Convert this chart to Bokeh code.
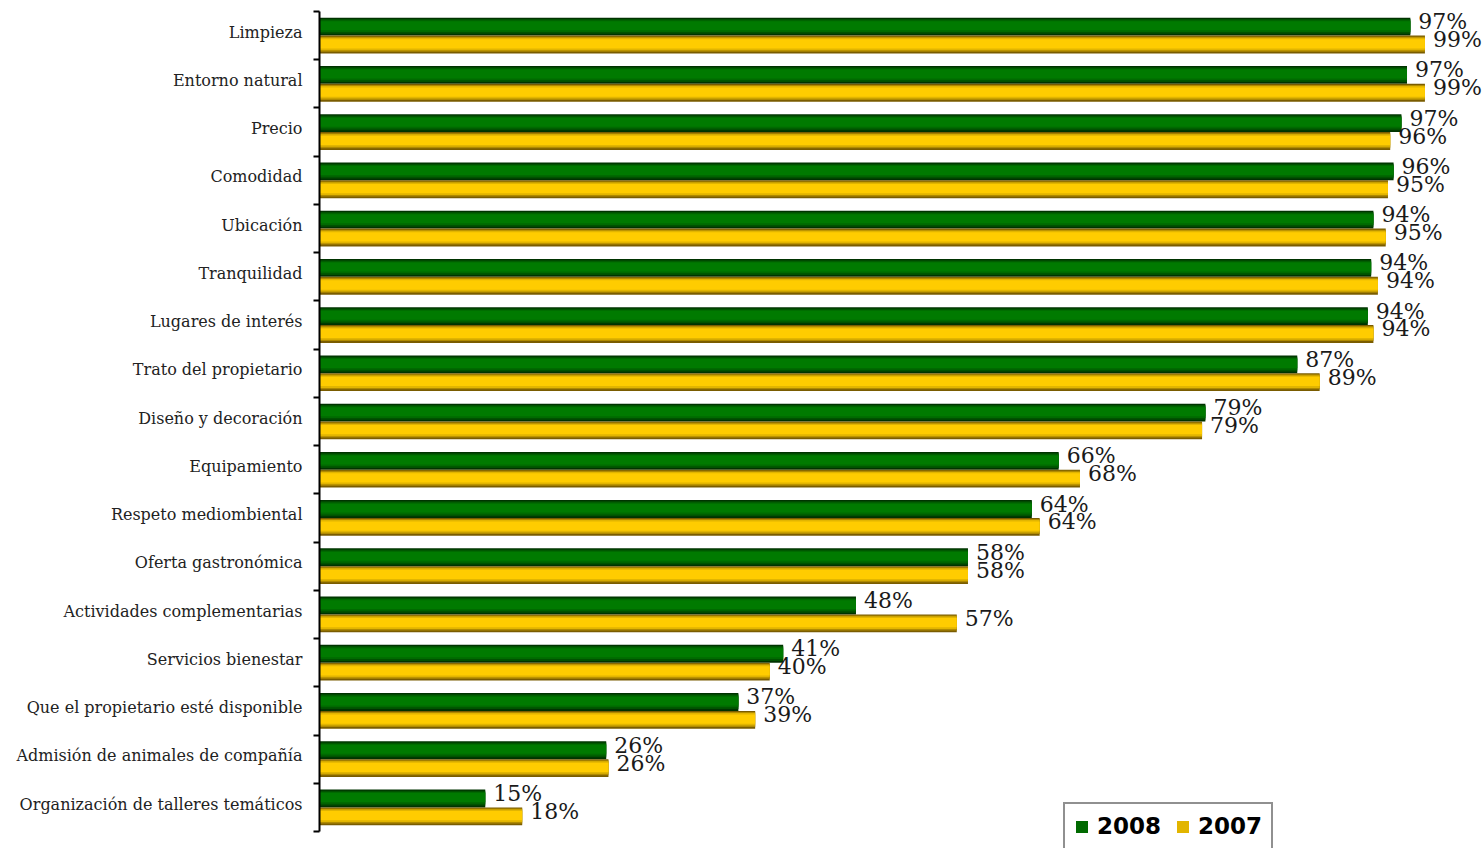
import numpy as np
from bokeh.plotting import figure
from bokeh.models import Range1d, FixedTicker, Legend, LegendItem, ColumnDataSource
from bokeh.embed import file_html
from bokeh.resources import INLINE
from bokeh.core.properties import value

categories = [
    "Limpieza", "Entorno natural", "Precio", "Comodidad", "Ubicación",
    "Tranquilidad", "Lugares de interés", "Trato del propietario",
    "Diseño y decoración", "Equipamiento", "Respeto mediombiental",
    "Oferta gastronómica", "Actividades complementarias", "Servicios bienestar",
    "Que el propietario esté disponible", "Admisión de animales de compañía",
    "Organización de talleres temáticos",
]
v2008 = [97.4, 97.1, 96.6, 95.9, 94.1, 93.9, 93.6, 87.3, 79.1, 66.0, 63.6, 57.9, 47.9, 41.4, 37.4, 25.6, 14.8]
v2007 = [98.7, 98.7, 95.6, 95.4, 95.2, 94.5, 94.1, 89.3, 78.8, 67.9, 64.3, 57.9, 56.9, 40.2, 38.9, 25.8, 18.1]
lab2008 = ["97%", "97%", "97%", "96%", "94%", "94%", "94%", "87%", "79%", "66%", "64%", "58%", "48%", "41%", "37%", "26%", "15%"]
lab2007 = ["99%", "99%", "96%", "95%", "95%", "94%", "94%", "89%", "79%", "68%", "64%", "58%", "57%", "40%", "39%", "26%", "18%"]
series = ["2008", "2007"]

n = len(categories)
yc = n - np.arange(n) - 0.5
bar_h = 0.37
off = 0.185

p = figure(width=1483, height=848, output_backend="svg", toolbar_location=None,
           x_range=Range1d(0, 103.93), y_range=Range1d(-0.3525, n),
           x_axis_location=None, min_border_left=319, min_border_right=0,
           min_border_top=11, min_border_bottom=0)
p.outline_line_color = None
p.xgrid.visible = False
p.ygrid.visible = False
p.background_fill_color = "white"

green_layers = [(0.0, 1.0, "#003300"), (0.07, 0.9, "#005200"), (0.14, 0.8, "#006a00"), (0.2, 0.7, "#007a00")]
gold_layers = [(0.0, 1.0, "#7a5c00"), (0.06, 0.9, "#b08a00"), (0.12, 0.82, "#e2b500"), (0.2, 0.72, "#ffcc00")]


def draw(vals, ycenter, layers):
    rends = []
    top = ycenter + bar_h / 2
    for t, b, c in layers:
        hh = float((b - t) * bar_h)
        yy = top - t * bar_h - hh / 2
        src = ColumnDataSource(dict(y=yy, right=vals))
        r = p.hbar(y="y", height=hh, left=0, right="right", source=src,
                   fill_color=c, line_color=None)
        rends.append(r)
    return rends


g_r = draw(v2008, yc + off, green_layers)
o_r = draw(v2007, yc - off, gold_layers)

src_l8 = ColumnDataSource(dict(x=v2008, y=yc + off, t=lab2008))
src_l7 = ColumnDataSource(dict(x=v2007, y=yc - off, t=lab2007))
for s in (src_l8, src_l7):
    p.text(x="x", y="y", text="t", source=s, x_offset=8, y_offset=-5,
           text_baseline="middle", text_align="left",
           text_font=value("DejaVu Serif"), text_font_size="22px", text_color="#1a1a1a")

major = [float(v) for v in (yc + 0.07)]
ax = p.yaxis[0]
ax.ticker = FixedTicker(ticks=major, minor_ticks=list(range(n + 1)))
ax.major_label_overrides = {m: c for m, c in zip(major, categories)}
ax.bounds = (0, n)
ax.axis_line_width = 2
ax.axis_line_color = "black"
ax.major_tick_in = 0
ax.major_tick_out = 0
ax.minor_tick_in = 0
ax.minor_tick_out = 6
ax.minor_tick_line_width = 2
ax.minor_tick_line_color = "black"
ax.major_label_standoff = 11
ax.major_label_text_font = "DejaVu Serif"
ax.major_label_text_font_size = "16px"
ax.major_label_text_color = "#222222"

legend = Legend(items=[LegendItem(label=series[0], renderers=[g_r[2]]),
                       LegendItem(label=series[1], renderers=[o_r[2]])],
                orientation="horizontal", location=(744, -2),
                border_line_color="#222222", border_line_width=2,
                padding=9, spacing=14, label_standoff=8, glyph_width=15, glyph_height=15,
                label_text_font="DejaVu Sans", label_text_font_style="bold",
                label_text_font_size="23px", label_text_color="black", margin=0,
                background_fill_color="white", background_fill_alpha=1.0)
p.add_layout(legend)

open("out.html", "w").write(file_html(p, INLINE))
